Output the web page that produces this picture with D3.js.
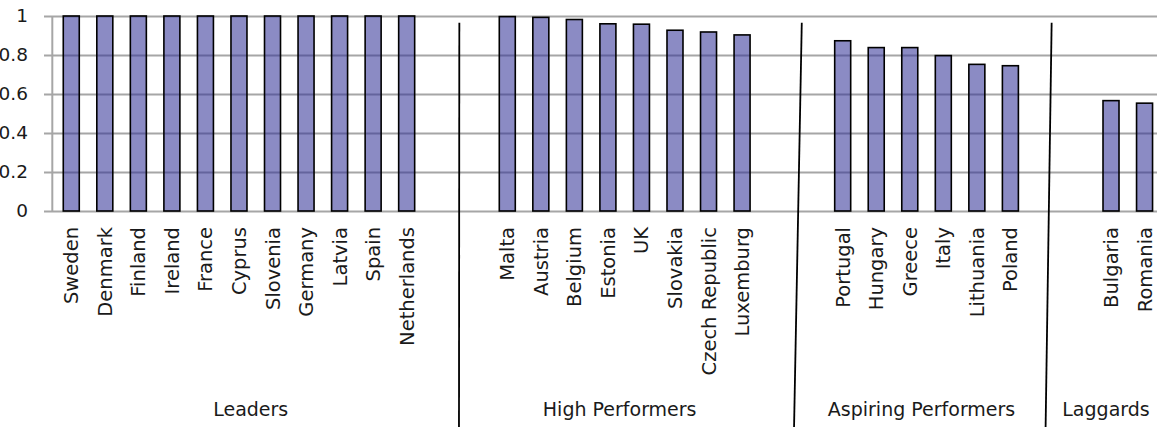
<!DOCTYPE html>
<html>
<head>
<meta charset="utf-8">
<script src="https://cdn.jsdelivr.net/npm/d3@7"></script>
<style>
  html, body { margin: 0; padding: 0; background: #fff; }
  svg { display: block; }
  text { font-family: "DejaVu Sans", sans-serif; fill: #1a1a1a; }
</style>
</head>
<body>
<svg id="chart" width="1157" height="427"></svg>
<script>
// ---- data ----
const leaders = ["Sweden","Denmark","Finland","Ireland","France","Cyprus","Slovenia","Germany","Latvia","Spain","Netherlands"];
const leaderValues = [1,1,1,1,1,1,1,1,1,1,1];
const highPerformers = ["Malta","Austria","Belgium","Estonia","UK","Slovakia","Czech Republic","Luxemburg"];
const highValues = [0.997,0.993,0.982,0.960,0.958,0.927,0.918,0.903];
const aspiring = ["Portugal","Hungary","Greece","Italy","Lithuania","Poland"];
const aspiringValues = [0.873,0.838,0.838,0.797,0.752,0.745];
const laggards = ["Bulgaria","Romania"];
const laggardValues = [0.566,0.553];
const groupNames = ["Leaders","High Performers","Aspiring Performers","Laggards"];
const yTickValues = [0,0.2,0.4,0.6,0.8,1];
const yTickLabels = ["0","0.2","0.4","0.6","0.8","1"];

// ---- build slots (two empty slots between groups) ----
const groups = [
  {name: groupNames[0], cats: leaders, vals: leaderValues},
  {name: groupNames[1], cats: highPerformers, vals: highValues},
  {name: groupNames[2], cats: aspiring, vals: aspiringValues},
  {name: groupNames[3], cats: laggards, vals: laggardValues}
];
const slots = [];
const bars = [];
groups.forEach((g, gi) => {
  if (gi > 0) { slots.push("_gap" + gi + "a"); slots.push("_gap" + gi + "b"); }
  g.first = slots.length;
  g.cats.forEach((c, i) => { slots.push(c); bars.push({name: c, value: g.vals[i]}); });
  g.last = slots.length - 1;
});

const W = 1157, H = 427;
const svg = d3.select("#chart");

const xLeft = 54.5, step = 33.54;
const x = d3.scaleBand().domain(slots)
  .range([xLeft, xLeft + step * slots.length])
  .paddingInner(0.523).paddingOuter(0.2615);
const xSlot = d3.scaleLinear().domain([0, slots.length]).range([xLeft, xLeft + step * slots.length]);
const y = d3.scaleLinear().domain([0, 1]).range([211, 16]);

// gridlines + tick labels
const axisX = 44;
const yAxis = d3.axisLeft(y).tickValues(yTickValues)
  .tickFormat((d, i) => yTickLabels[i])
  .tickSize(-(W - axisX + 10)).tickPadding(16);
const gy = svg.append("g").attr("transform", `translate(${axisX},0)`).call(yAxis);
gy.select(".domain").remove();
gy.selectAll(".tick line").attr("stroke", "#a6a6a6").attr("stroke-width", 2);
gy.selectAll(".tick text").style("font-size", "18.5px").attr("fill", "#1a1a1a")
  .style("font-family", '"DejaVu Sans", sans-serif');

// vertical axis line
svg.append("line")
  .attr("x1", xLeft - 2.2).attr("x2", xLeft - 2.2)
  .attr("y1", y(1)).attr("y2", y(0))
  .attr("stroke", "#a6a6a6").attr("stroke-width", 2);

// bars
svg.append("g").selectAll("rect").data(bars).join("rect")
  .attr("x", d => x(d.name))
  .attr("width", x.bandwidth())
  .attr("y", d => y(d.value))
  .attr("height", d => y(0) - y(d.value))
  .attr("fill", "rgb(48,48,150)")
  .attr("fill-opacity", 0.56)
  .attr("stroke", "#000")
  .attr("stroke-width", 1.6);

// category labels
svg.append("g").selectAll("text").data(bars).join("text")
  .attr("transform", d => `translate(${x(d.name) + x.bandwidth() / 2},227) rotate(-90)`)
  .attr("text-anchor", "end")
  .attr("dy", "0.36em")
  .style("font-size", "19.5px")
  .text(d => d.name);

// group separators (slanted, hand-drawn look) in slot units
const sepTop = [12.07, 22.28, 29.73];
const sepBottom = [12.06, 22.05, 29.55];
svg.append("g").selectAll("line").data(sepTop).join("line")
  .attr("x1", (d) => xSlot(d))
  .attr("y1", y(0.965))
  .attr("x2", (d, i) => xSlot(sepBottom[i]))
  .attr("y2", H)
  .attr("stroke", "#000").attr("stroke-width", 1.8);

// group labels
svg.append("g").selectAll("text").data(groups).join("text")
  .attr("x", (g, i) => {
    const a = i === 0 ? 0 : g.first - 1;
    const b = i === groups.length - 1 ? slots.length : g.last + 2;
    return xSlot((a + b) / 2) - 5;
  })
  .attr("y", 416)
  .attr("text-anchor", "middle")
  .style("font-size", "19px")
  .text(g => g.name);
</script>
</body>
</html>
